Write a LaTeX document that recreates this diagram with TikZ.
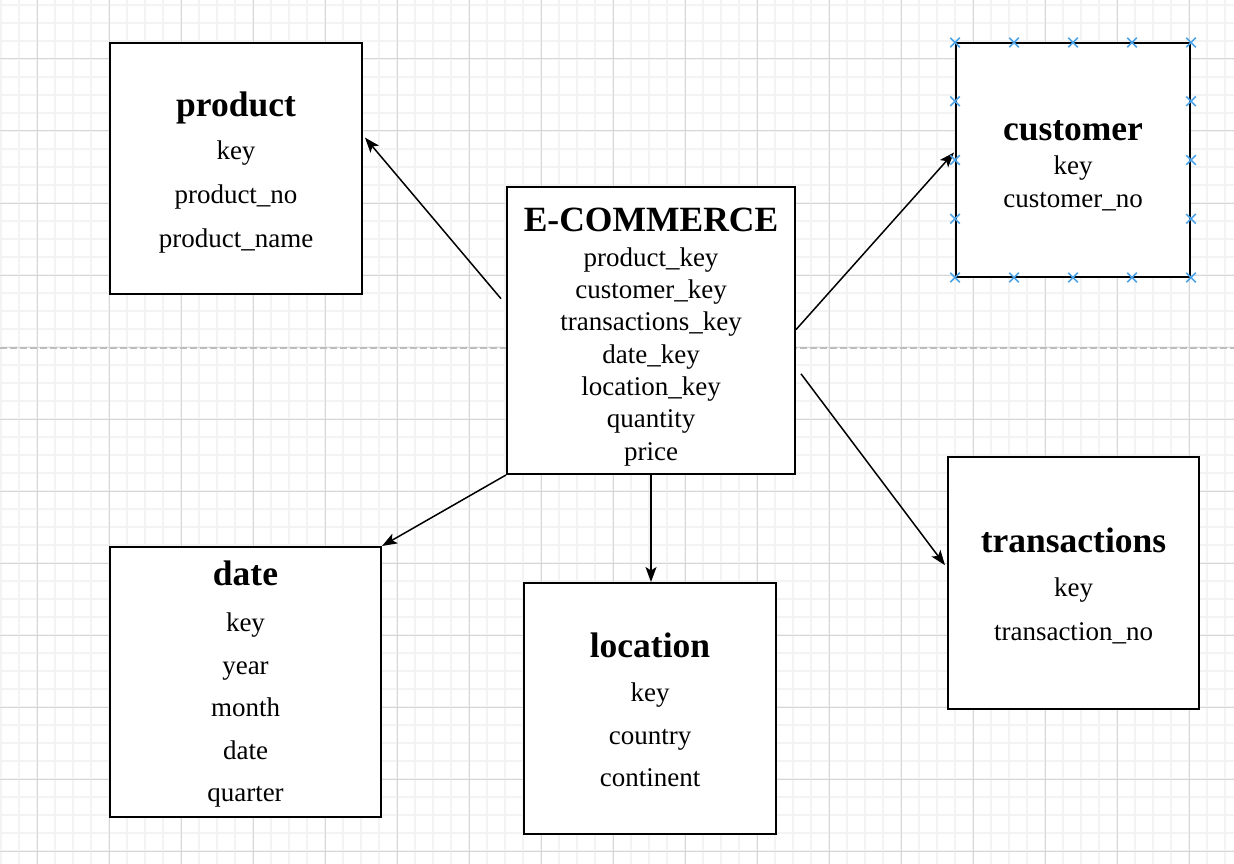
\documentclass[tikz,border=0pt]{standalone}
\usepackage{fontspec}
\setmainfont{Liberation Serif}
\usetikzlibrary{arrows.meta,calc,shapes.misc}
\definecolor{gridminor}{HTML}{F3F3F3}
\definecolor{gridmajor}{HTML}{D6D6D6}
\definecolor{pagebrk}{HTML}{BDBDBD}
\definecolor{handle}{HTML}{4DA3E8}
\tikzset{
  entity/.style n args={2}{draw=black, line width=2pt, fill=white, inner sep=0pt,
    minimum width=#1pt, minimum height=#2pt},
  etitle/.style={anchor=base, inner sep=0pt, yshift=-2pt, font=\fontsize{35.5}{40}\selectfont\bfseries},
  efield/.style={anchor=base, inner sep=0pt, yshift=-2pt, font=\fontsize{27}{32}\selectfont},
  link/.style={line width=1.5pt, -{Stealth[length=15pt,width=11pt,inset=3.5pt]}},
  handlemark/.style={cross out, draw=handle, line width=1.5pt, minimum size=8pt, inner sep=0pt},
}
\begin{document}
\begin{tikzpicture}[x=1pt,y=-1pt]
\useasboundingbox (0,0) rectangle (1234,864);
\fill[white] (0,0) rectangle (1234,864);
% grid
\foreach \x in {1,19,...,1234} \draw[gridminor, line width=1.2pt] (\x,0) -- (\x,864);
\foreach \y in {5,23,...,864} \draw[gridminor, line width=1.2pt] (0,\y) -- (1234,\y);
\foreach \x in {37,109,...,1234} \draw[gridmajor, line width=1pt] (\x,0) -- (\x,864);
\foreach \y in {59,131,...,864} \draw[gridmajor, line width=1pt] (0,\y) -- (1234,\y);
% page break line
\draw[pagebrk, line width=1.5pt, dash pattern=on 7pt off 3pt] (0,348) -- (1234,348);

% boxes
\node[entity={252}{251}] (prod) at (236,168.5) {};
\node[entity={234}{233}] (cust) at (1073,160) {};
\node[entity={288}{287}] (ecom) at (651,330.5) {};
\node[entity={271}{270}] (date) at (245.5,682) {};
\node[entity={252}{251}] (loc) at (650,708.5) {};
\node[entity={251}{252}] (trans) at (1073.5,583) {};

% product
\node[etitle] (prodT) at (236,115) {product};
\node[efield] (prod1) at (236,158) {key};
\node[efield] (prod2) at (236,201.5) {product\_no};
\node[efield] (prod3) at (236,245) {product\_name};
% customer
\node[etitle] (custT) at (1073,138) {customer};
\node[efield] (cust1) at (1073,173) {key};
\node[efield] (cust2) at (1073,205.5) {customer\_no};
% e-commerce
\node[etitle] (ecomT) at (651,229) {E-COMMERCE};
\node[efield] (ecom1) at (651,264) {product\_key};
\node[efield] (ecom2) at (651,296.3) {customer\_key};
\node[efield] (ecom3) at (651,328.6) {transactions\_key};
\node[efield] (ecom4) at (651,361) {date\_key};
\node[efield] (ecom5) at (651,393.3) {location\_key};
\node[efield] (ecom6) at (651,425.6) {quantity};
\node[efield] (ecom7) at (651,458) {price};
% date
\node[etitle] (dateT) at (245.5,583) {date};
\node[efield] (date1) at (245.5,629) {key};
\node[efield] (date2) at (245.5,672) {year};
\node[efield] (date3) at (245.5,714.5) {month};
\node[efield] (date4) at (245.5,757) {date};
\node[efield] (date5) at (245.5,799.5) {quarter};
% location
\node[etitle] (locT) at (650,655) {location};
\node[efield] (loc1) at (650,699) {key};
\node[efield] (loc2) at (650,742) {country};
\node[efield] (loc3) at (650,784.5) {continent};
% transactions
\node[etitle] (transT) at (1073.5,550) {transactions};
\node[efield] (trans1) at (1073.5,594) {key};
\node[efield] (trans2) at (1073.5,638) {transaction\_no};

% connectors
\draw[link] ($(ecom.north west)!0.39!(ecom.south west)+(-5,0)$) -- ($(prod.north east)!0.378!(prod.south east)+(2,0)$);
\draw[link] ($(ecom.north east)!0.497!(ecom.south east)$) -- ($(cust.north west)!0.468!(cust.south west)+(-1,0)$);
\draw[link] ($(ecom.north east)!0.65!(ecom.south east)+(5,0)$) -- ($(trans.north west)!0.43!(trans.south west)+(-2,0)$);
\draw[link] (ecom.south west) -- (date.north east);
\draw[link] (ecom.south) -- (ecom.south |- loc.north);

% selection handles on customer
\foreach \f [count=\i] in {0,0.25,0.5,0.75,1}{
  \path ($(cust.north west)!\f!(cust.north east)$) node[handlemark] (hn\i) {}
        ($(cust.south west)!\f!(cust.south east)$) node[handlemark] (hs\i) {};
}
\foreach \f [count=\i] in {0.25,0.5,0.75}{
  \path ($(cust.north west)!\f!(cust.south west)$) node[handlemark] (hw\i) {}
        ($(cust.north east)!\f!(cust.south east)$) node[handlemark] (he\i) {};
}
\end{tikzpicture}
\end{document}
